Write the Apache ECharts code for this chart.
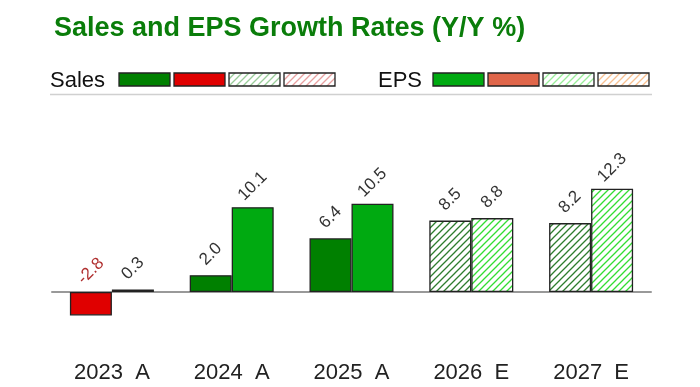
<!DOCTYPE html>
<html><head><meta charset="utf-8">
<script src="https://cdn.jsdelivr.net/npm/echarts@6/dist/echarts.min.js"></script>
<style>html,body{margin:0;padding:0;background:#fff}#c{width:700px;height:387px}</style>
</head><body><div id="c"></div>
<script>
const categories = ['2023  A', '2024  A', '2025  A', '2026  E', '2027  E'];
const salesValues = [-2.8, 2.0, 6.4, 8.5, 8.2];
const epsValues = [0.3, 10.1, 10.5, 8.8, 12.3];
const isEstimate = [false, false, false, true, true];

function hatch(color, bg) {
  const s = 7;
  const c = document.createElement('canvas');
  c.width = s; c.height = s;
  const g = c.getContext('2d');
  g.fillStyle = bg; g.fillRect(0, 0, s, s);
  g.strokeStyle = color; g.lineWidth = 1.3;
  g.beginPath();
  g.moveTo(0, s); g.lineTo(s, 0);
  g.moveTo(-1, 1); g.lineTo(1, -1);
  g.moveTo(s - 1, s + 1); g.lineTo(s + 1, s - 1);
  g.stroke();
  return { image: c, repeat: 'repeat' };
}

const FONT = 'Liberation Sans, Arial, sans-serif';
const C = {
  salesPos: '#008000', salesNeg: '#E00000',
  epsPos: '#00AA11', epsNeg: '#E0664A',
  salesEst: hatch('#2E7D2E', '#ffffff'), epsEst: hatch('#33DD33', '#ffffff'),
  legSalesEst: hatch('#99CC99', '#ffffff'), legSalesEstNeg: hatch('#E8A0A0', '#ffffff'),
  legEpsEst: hatch('#99EE99', '#ffffff'), legEpsEstNeg: hatch('#F8C090', '#ffffff')
};

function mkData(vals, pos, neg, est) {
  return vals.map((v, i) => ({
    value: v,
    itemStyle: { color: isEstimate[i] ? est : (v < 0 ? neg : pos) },
    label: { color: v < 0 ? '#B03030' : '#333333' }
  }));
}

const labelCfg = {
  show: true, position: 'top', rotate: 45, distance: 21,
  align: 'center', verticalAlign: 'middle',
  fontFamily: FONT, fontSize: 17,
  formatter: p => p.value.toFixed(1)
};

const chart = echarts.init(document.getElementById('c'), null, { renderer: 'canvas' });

const legendGraphics = [];
function legendGroup(x0, text, textW, fills) {
  legendGraphics.push({ type: 'text', left: x0, top: 70, style: { text: text, font: '22px ' + FONT, fill: '#111' } });
  fills.forEach((f, i) => {
    legendGraphics.push({ type: 'rect', shape: { x: x0 + textW + i * 55, y: 73, width: 51, height: 13 },
      style: { fill: f, stroke: '#222', lineWidth: 1.3 } });
  });
}
legendGroup(50, 'Sales', 69, [C.salesPos, C.salesNeg, C.legSalesEst, C.legSalesEstNeg]);
legendGroup(378, 'EPS', 55, [C.epsPos, C.epsNeg, C.legEpsEst, C.legEpsEstNeg]);
legendGraphics.push({ type: 'line', shape: { x1: 50, y1: 94.5, x2: 652, y2: 94.5 }, style: { stroke: '#d0d0d0', lineWidth: 1.5 } });

chart.setOption({
  animation: false,
  title: {
    text: 'Sales and EPS Growth Rates (Y/Y %)', left: 49, top: 10,
    textStyle: { color: '#0A7D0A', fontSize: 27, fontWeight: 'bold', fontFamily: FONT }
  },
  graphic: legendGraphics,
  grid: { left: 52, right: 49, top: 124, bottom: 53 },
  xAxis: [
    { type: 'category', data: categories, axisLine: { onZero: true, lineStyle: { color: '#999', width: 2 } },
      axisTick: { show: false }, axisLabel: { show: false } },
    { type: 'category', data: categories, position: 'bottom', axisLine: { show: false, onZero: false },
      axisTick: { show: false },
      axisLabel: { margin: 28, fontSize: 22, color: '#222', fontFamily: FONT } }
  ],
  yAxis: { type: 'value', min: -5, max: 20, show: false, splitLine: { show: false } },
  series: [
    { name: 'Sales', type: 'bar', xAxisIndex: 0, barWidth: 42, barGap: '0%',
      data: mkData(salesValues, C.salesPos, C.salesNeg, C.salesEst),
      itemStyle: { borderColor: '#222', borderWidth: 1.3 }, label: labelCfg },
    { name: 'EPS', type: 'bar', xAxisIndex: 0, barWidth: 42, barGap: '0%',
      data: mkData(epsValues, C.epsPos, C.epsNeg, C.epsEst),
      itemStyle: { borderColor: '#222', borderWidth: 1.3 }, label: labelCfg }
  ]
});
</script></body></html>
